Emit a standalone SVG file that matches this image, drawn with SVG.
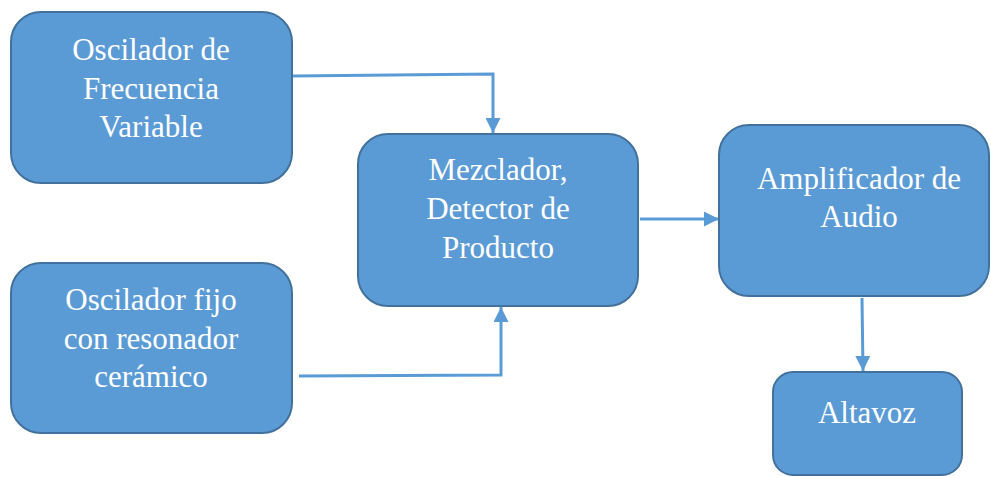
<svg xmlns="http://www.w3.org/2000/svg" width="991" height="477" viewBox="0 0 991 477">
  <defs>
    <style>
      .box { fill: #5B9BD5; stroke: #41719C; stroke-width: 2; }
      .lbl { fill: #FFFFFF; text-anchor: middle; font-family: 'Liberation Serif', 'Times New Roman', serif; font-size: 31px; }
      .wire { fill: none; stroke: #5B9BD5; stroke-width: 3; }
    </style>
    <marker id="arrow" viewBox="0 0 10 10" refX="10" refY="5" markerWidth="5" markerHeight="5" orient="auto" markerUnits="strokeWidth">
      <path d="M0,0 L10,5 L0,10 Z" fill="#5B9BD5"/>
    </marker>
  </defs>
  <rect width="991" height="477" fill="#FFFFFF"/>

  <!-- signal paths between the stages -->
  <g id="connectors">
    <path class="wire" d="M292,76 L493,74 L493,133" marker-end="url(#arrow)"/>
    <path class="wire" d="M299,376 L501,375 L501,307" marker-end="url(#arrow)"/>
    <path class="wire" d="M640,219 L719,219" marker-end="url(#arrow)"/>
    <path class="wire" d="M862,298 L863,371" marker-end="url(#arrow)"/>
  </g>

  <g id="osc-variable">
    <rect class="box" x="11" y="12" width="281" height="171" rx="30"/>
    <text class="lbl" x="151" y="60">Oscilador de</text>
    <text class="lbl" x="151" y="99">Frecuencia</text>
    <text class="lbl" x="151" y="137">Variable</text>
  </g>

  <g id="osc-fijo">
    <rect class="box" x="11" y="263" width="281" height="170" rx="30"/>
    <text class="lbl" x="151" y="310">Oscilador fijo</text>
    <text class="lbl" x="151" y="349">con resonador</text>
    <text class="lbl" x="151" y="387">cerámico</text>
  </g>

  <g id="mezclador">
    <rect class="box" x="358" y="134" width="280" height="172" rx="30"/>
    <text class="lbl" x="498" y="180">Mezclador,</text>
    <text class="lbl" x="498" y="219">Detector de</text>
    <text class="lbl" x="498" y="258">Producto</text>
  </g>

  <g id="amplificador">
    <rect class="box" x="719" y="125" width="270" height="171" rx="30"/>
    <text class="lbl" x="859" y="189">Amplificador de</text>
    <text class="lbl" x="859" y="227">Audio</text>
  </g>

  <g id="altavoz">
    <rect class="box" x="773" y="372" width="189" height="103" rx="20"/>
    <text class="lbl" x="867" y="423">Altavoz</text>
  </g>
</svg>
